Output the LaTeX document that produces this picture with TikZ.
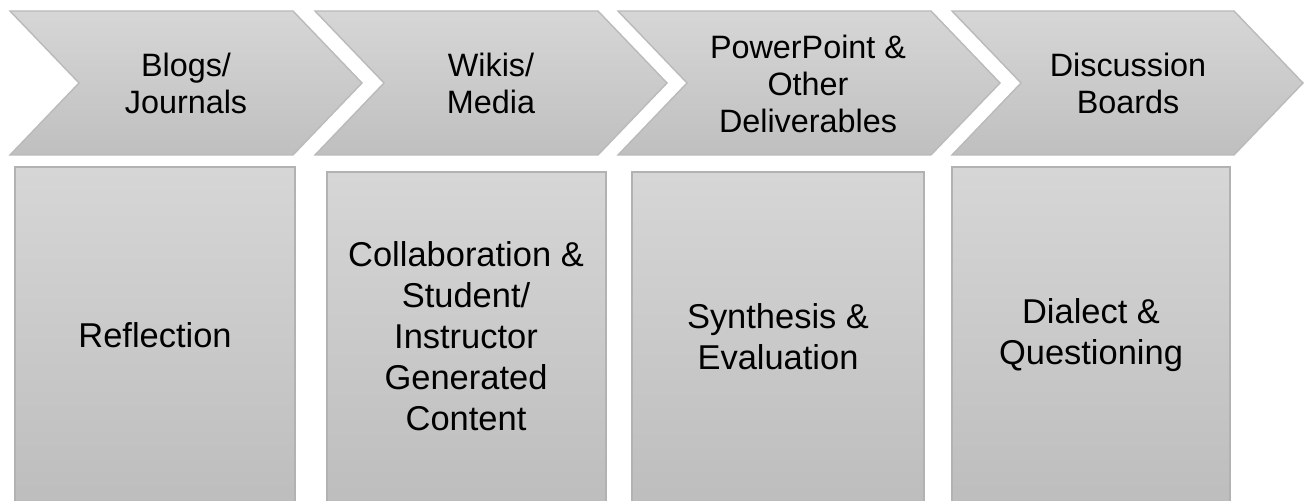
\documentclass[tikz,border=0pt]{standalone}
\usepackage{fontspec}
\setmainfont{Liberation Sans}

\begin{document}
\begin{tikzpicture}[x=0.01cm,y=-0.01cm,
	chevron/.style={draw=black!27,line width=0.4pt,top color=black!16,bottom color=black!25},
	level/.style={draw=black!30,line width=0.4pt,top color=black!16,bottom color=black!26},
	toplabel/.style={align=center,text=black,font=\fontsize{9.2}{10.5}\selectfont},
	boxlabel/.style={align=center,text=black,font=\fontsize{9.8}{11.7}\selectfont}]
	\clip (0,0) rectangle (1306,501);
	
	% chevrons
	\foreach \xl/\xr in {10/293,315/598,618/931,952/1234}
		\draw[chevron] (\xl,11) -- (\xr,11) -- (\xr+69,83) -- (\xr,155) -- (\xl,155) -- (\xl+69,83) -- cycle;
	
	% boxes
	\draw[level] (15,167) rectangle (295,510);
	\draw[level] (327,172) rectangle (606,510);
	\draw[level] (632,172) rectangle (924,510);
	\draw[level] (952,167) rectangle (1230,510);
	
	\node[toplabel] (blogs) at (186,83) {Blogs/\\Journals};
	\node[toplabel] (wikis) at (491,83) {Wikis/\\Media};
	\node[toplabel] (deliver) at (808,84) {PowerPoint \&\\Other\\Deliverables};
	\node[toplabel] (boards) at (1128,83) {Discussion\\Boards};
	
	\node[boxlabel] (reflect) at (155,335) {Reflection};
	\node[boxlabel] (collab) at (466,336) {Collaboration \&\\Student/\\Instructor\\Generated\\Content};
	\node[boxlabel] (synth) at (778,337) {Synthesis \&\\Evaluation};
	\node[boxlabel] (dialect) at (1091,335) {Dialect \&\\Questioning};
\end{tikzpicture}
\end{document}
